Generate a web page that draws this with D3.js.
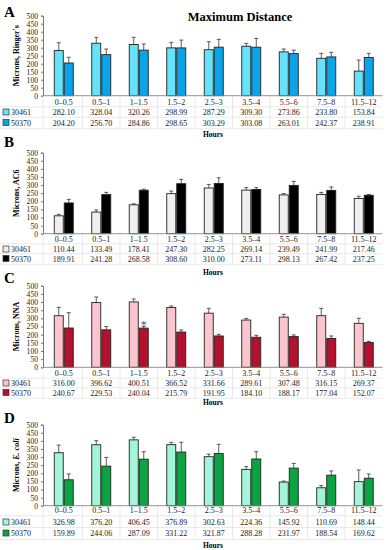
<!DOCTYPE html>
<html><head><meta charset="utf-8">
<script src="https://cdn.jsdelivr.net/npm/d3@7/dist/d3.min.js"></script>
<style>body{margin:0;background:#fff}svg{display:block}</style>
</head><body>
<svg id="c" width="390" height="550"></svg>
<script>
const categories = ["0\u20130.5","0.5\u20131","1\u20131.5","1.5\u20132","2.5\u20133","3.5\u20134","5.5\u20136","7.5\u20138","11.5\u201312"];
const seriesNames = ["30461","50370"];
const yTicks = [0,50,100,150,200,250,300,350,400,450,500];

const ringer30461 = [282.10,328.04,320.26,298.99,287.29,309.30,273.86,233.80,153.84];
const ringer50370 = [204.20,256.70,284.86,298.65,303.29,303.08,263.01,242.37,238.91];
const ringerErr30461 = [49,37,45,34,50,18,18,31,69];
const ringerErr50370 = [36,35,38,49,49,55,22,29,26];

const ac6_30461 = [110.44,133.49,178.41,247.30,282.25,269.14,239.49,241.99,217.46];
const ac6_50370 = [189.91,241.28,268.58,308.60,310.00,273.11,298.13,267.42,237.25];
const ac6Err30461 = [9,13,6,16,22,15,8,13,14];
const ac6Err50370 = [22,14,6,27,35,11,25,21,5];

const nna30461 = [316.00,396.62,400.51,366.52,331.66,289.61,307.48,316.15,269.37];
const nna50370 = [240.67,229.53,240.04,215.79,191.95,184.10,188.17,177.04,152.07];
const nnaErr30461 = [51,34,18,9,30,10,17,45,31];
const nnaErr50370 = [94,20,10,13,10,12,10,15,7];

const ecoli30461 = [326.98,376.20,406.45,376.89,302.63,224.36,145.92,110.69,148.44];
const ecoli50370 = [159.89,244.06,287.09,331.22,321.87,288.28,231.97,188.54,169.62];
const ecoliErr30461 = [47,25,16,14,16,17,6,13,72];
const ecoliErr50370 = [36,54,46,60,57,45,29,26,26];

const panels = [
  {letter:"A", label:[["Microns, Ringer's",false]], v1:ringer30461, v2:ringer50370, e1:ringerErr30461, e2:ringerErr50370,
   c1:"#66e3fa", c2:"#0aa4e8", y0:95.7, yTop:15.7, rows:[101.5,112,122.5], hours:133.5, letterY:17},
  {letter:"B", label:[["Microns, AC6",false]], v1:ac6_30461, v2:ac6_50370, e1:ac6Err30461, e2:ac6Err50370,
   c1:"#efefef", c2:"#000000", y0:233.7, yTop:152.7, rows:[238.5,249,258.5], hours:272, letterY:147},
  {letter:"C", label:[["Microns, NNA",false]], v1:nna30461, v2:nna50370, e1:nnaErr30461, e2:nnaErr50370,
   c1:"#fbc5cf", c2:"#b5102c", y0:367.3, yTop:285.7, rows:[373.3,383,392.5], hours:402, letterY:283, star:{i:2, v:272}},
  {letter:"D", label:[["Microns, ",false],["E. coli",true]], v1:ecoli30461, v2:ecoli50370, e1:ecoliErr30461, e2:ecoliErr50370,
   c1:"#a3f5da", c2:"#0aa542", y0:505.7, yTop:424.7, rows:[509.5,522,533], hours:545, letterY:423}
];

const svg = d3.select("#c");
const font = "'Liberation Serif','Times New Roman',serif";
const x = d3.scaleBand().domain(categories).range([45, 382.5]).padding(0);
const bw = 9;

svg.append("text").attr("x",240).attr("y",21).attr("text-anchor","middle")
  .attr("font-family",font).attr("font-weight","bold").attr("font-size",12.5).text("Maximum Distance");

panels.forEach(p => {
  const g = svg.append("g");
  const y = d3.scaleLinear().domain([0,500]).range([p.y0, p.yTop]);

  g.append("text").attr("x",4).attr("y",p.letterY).attr("font-family",font)
    .attr("font-weight","bold").attr("font-size",15).text(p.letter);

  const ax = g.append("g").attr("transform",`translate(43,0)`)
    .call(d3.axisLeft(y).tickValues(yTicks).tickSize(2).tickPadding(3));
  ax.selectAll("text").attr("font-family",font).attr("font-size",7.6).attr("fill","#222");
  ax.select(".domain").attr("stroke","#777");
  ax.selectAll(".tick line").attr("stroke","#777");

  const lbl = g.append("text").attr("transform",`translate(19,${(p.y0+p.yTop)/2}) rotate(-90)`)
    .attr("text-anchor","middle").attr("font-family",font).attr("font-weight","bold").attr("font-size",8);
  p.label.forEach(([t,it]) => lbl.append("tspan").attr("font-style", it?"italic":"normal").text(t));

  const tTop = p.y0, tBot = p.rows[2] + (p.rows[2]-p.rows[1])/2 + 1;
  const r1Top = (p.rows[0]+p.rows[1])/2, r2Top = (p.rows[1]+p.rows[2])/2;
  [r1Top, r2Top, tBot].forEach(yy => g.append("line").attr("x1",0).attr("x2",382.5)
      .attr("y1",yy).attr("y2",yy).attr("stroke","#e0e0e0").attr("stroke-width",0.7));
  categories.forEach((c,i) => {
    if (i===0) return;
    g.append("line").attr("x1",x(c)).attr("x2",x(c)).attr("y1",tTop).attr("y2",tBot)
      .attr("stroke","#e0e0e0").attr("stroke-width",0.7);
  });
  g.append("line").attr("x1",43).attr("x2",43).attr("y1",tTop).attr("y2",tBot).attr("stroke","#e0e0e0").attr("stroke-width",0.7);

  const series = [{v:p.v1,e:p.e1,c:p.c1,off:-bw-0.5},{v:p.v2,e:p.e2,c:p.c2,off:0.5}];
  series.forEach(s => {
    const cx = (d,i) => x(categories[i]) + x.bandwidth()/2 + s.off;
    g.selectAll(null).data(s.v).enter().append("rect")
      .attr("x",cx).attr("y",d=>y(d)).attr("width",bw).attr("height",d=>p.y0-y(d))
      .attr("fill",s.c).attr("stroke","#222").attr("stroke-width",0.9);
    g.selectAll(null).data(s.v).enter().append("line")
      .attr("x1",(d,i)=>cx(d,i)+bw/2).attr("x2",(d,i)=>cx(d,i)+bw/2)
      .attr("y1",d=>y(d)).attr("y2",(d,i)=>y(d+s.e[i])).attr("stroke","#333").attr("stroke-width",0.8);
    g.selectAll(null).data(s.v).enter().append("line")
      .attr("x1",(d,i)=>cx(d,i)+bw/2-2).attr("x2",(d,i)=>cx(d,i)+bw/2+2)
      .attr("y1",(d,i)=>y(d+s.e[i])).attr("y2",(d,i)=>y(d+s.e[i])).attr("stroke","#333").attr("stroke-width",0.8);
  });
  if (p.star) {
    g.append("text").attr("x", x(categories[p.star.i]) + x.bandwidth()/2 + 0.5 + bw/2)
      .attr("y", y(p.star.v)+6).attr("text-anchor","middle").attr("font-family",font)
      .attr("font-size",12).attr("fill","#555").text("*");
  }

  g.append("line").attr("x1",43).attr("x2",382.5).attr("y1",p.y0).attr("y2",p.y0).attr("stroke","#888").attr("stroke-width",0.9);

  const tf = (yy) => yy + 3;
  g.selectAll(null).data(categories).enter().append("text")
    .attr("x",c=>x(c)+x.bandwidth()/2).attr("y",tf(p.rows[0])).attr("text-anchor","middle")
    .attr("font-family",font).attr("font-size",8).attr("fill","#222").text(c=>c);
  [[p.v1,p.c1,p.rows[1]],[p.v2,p.c2,p.rows[2]]].forEach(([vals,col,ry],k) => {
    g.selectAll(null).data(vals).enter().append("text")
      .attr("x",(d,i)=>x(categories[i])+x.bandwidth()/2).attr("y",tf(ry)).attr("text-anchor","middle")
      .attr("font-family",font).attr("font-size",8).attr("fill","#222").text(d=>d.toFixed(2));
    g.append("rect").attr("x",3).attr("y",ry-3).attr("width",6).attr("height",6)
      .attr("fill",col).attr("stroke","#333").attr("stroke-width",0.7);
    g.append("text").attr("x",11).attr("y",tf(ry)).attr("font-family",font).attr("font-size",8)
      .attr("fill","#222").text(seriesNames[k]);
  });

  g.append("text").attr("x",213).attr("y",p.hours+3).attr("text-anchor","middle")
    .attr("font-family",font).attr("font-weight","bold").attr("font-size",7.5).text("Hours");
});
</script>
</body></html>
